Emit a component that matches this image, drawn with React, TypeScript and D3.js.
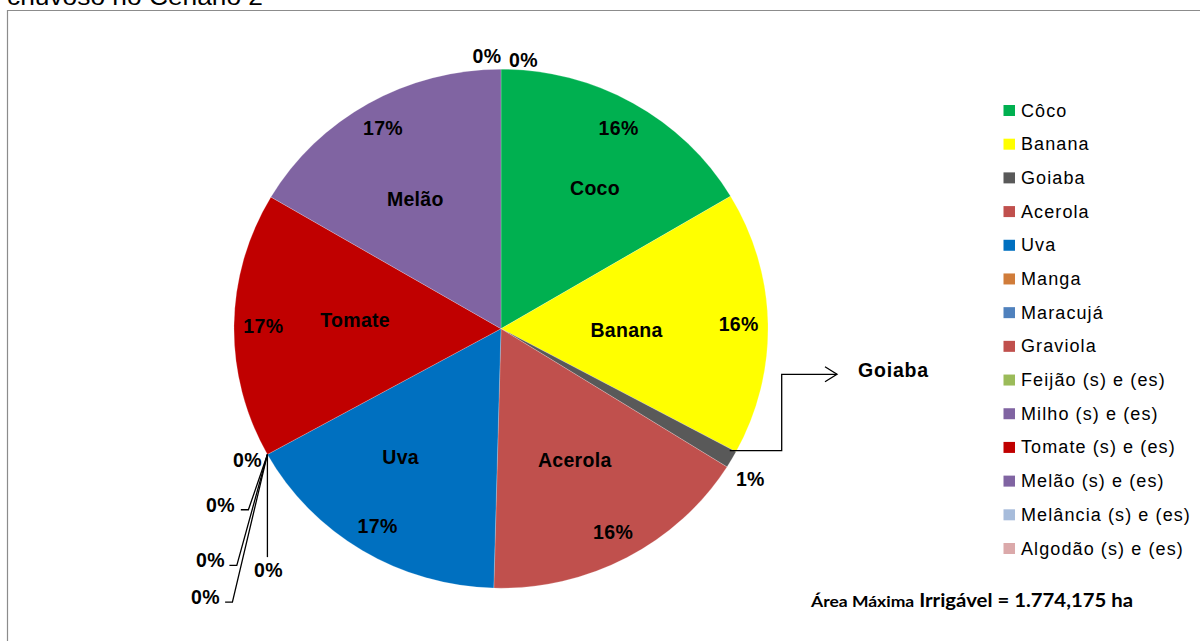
import React from "react";
import * as d3 from "d3";

// ---- data ----
const categories = [
  "Côco", "Banana", "Goiaba", "Acerola", "Uva", "Manga", "Maracujá", "Graviola",
  "Feijão (s) e (es)", "Milho (s) e (es)", "Tomate (s) e (es)", "Melão (s) e (es)",
  "Melância (s) e (es)", "Algodão (s) e (es)",
];
const sliceNames = [
  "Coco", "Banana", "Goiaba", "Acerola", "Uva", "Manga", "Maracujá", "Graviola",
  "Feijão", "Milho", "Tomate", "Melão", "Melância", "Algodão",
];
const values = [16.47, 16.4, 1.07, 16.49, 16.52, 0, 0, 0, 0, 0, 16.52, 16.53, 0, 0];
const colors = [
  "#00B050", "#FFFF00", "#595959", "#C0504D", "#0070C0", "#D07C3A", "#4F81BD", "#C0504D",
  "#9BBB59", "#8064A2", "#C00000", "#8064A2", "#A7BCDB", "#DBA9AA",
];
const titleText = "chuvoso no Cenário 2";
const footA = "Área Máxima";
const footB = " Irrigável = 1.774,175  ha";

// ---- layout ----
const W = 1200, H = 641;
const CX = 501, CY = 328.7, R = 259.5, SX = 1.029;
const PCT_R = 231;
// name label: [radius, angle nudge in degrees]
const nameLayout: Record<string, [number, number]> = {
  Coco: [168, 3.3], Banana: [122, 1.8], Acerola: [150, -0.4],
  Uva: [161, 6], Tomate: [142, 2.7], Melão: [154, -3],
};
// zero-slice labels: offsets from slice outer point, optional leader elbow
const zeroLayout: Record<string, { lx: number; ly: number; leader?: [number, number][] }> = {
  Manga: { lx: -20, ly: 6 },
  Maracujá: { lx: -47, ly: 51, leader: [[-19, 55.3], [-26.6, 55.3]] },
  Graviola: { lx: -57, ly: 106, leader: [[-30.6, 111], [-38, 111]] },
  Feijão: { lx: -62, ly: 143, leader: [[-35, 147.7], [-42.3, 147.7]] },
  Milho: { lx: 1, ly: 116, leader: [[0, 102.7]] },
  Melância: { lx: -14, ly: -13.7 },
  Algodão: { lx: 22.5, ly: -9.7 },
};

const pt = (aDeg: number, r: number): [number, number] => {
  const a = (aDeg * Math.PI) / 180;
  return [CX + r * Math.sin(a) * SX, CY - r * Math.cos(a)];
};

export default function App() {
  const total = d3.sum(values);
  const pie = d3.pie<number>().sort(null).value((d) => d)(values);
  const arc = d3.arc<d3.PieArcDatum<number>>().innerRadius(0).outerRadius(R);
  const fmt = d3.format(".0%");
  const deg = (r: number) => (r * 180) / Math.PI;

  const legendY = d3.scalePoint<string>().domain(categories).range([110.5, 548.5]);

  const labelFont = "'Liberation Sans', Arial, Helvetica, sans-serif";
  const bold = { fontFamily: labelFont, fontWeight: 700, fontSize: 19.5, letterSpacing: 0.3 } as const;

  // Goiaba annotation
  const gi = sliceNames.indexOf("Goiaba");
  const gMid = deg((pie[gi].startAngle + pie[gi].endAngle) / 2);
  const gStart = pt(deg(pie[gi].startAngle) + 0.4, R - 6);
  const gElbowX = 781.7, gTopY = 374.3, gArrowX = 837;
  const gPct = pt(gMid + 1.5, 285);

  return (
    <svg width={W} height={H} style={{ position: "absolute", left: 0, top: 0, background: "#fff" }}>
      <rect x={0} y={0} width={W} height={H} fill="#fff" />
      <text x={7} y={4.5} fontFamily={labelFont} fontSize={24} textLength={256} lengthAdjust="spacingAndGlyphs" fill="#000">
        {titleText}
      </text>
      <path d={`M7.5,${H} V10.5 H${W}`} fill="none" stroke="#8c8c8c" strokeWidth={1.2} />

      <g transform={`translate(${CX},${CY}) scale(${SX},1)`}>
        {pie.map((d, i) =>
          d.value > 0 ? (
            <path key={i} d={arc(d) || ""} fill={colors[i]} stroke="#ffffff" strokeOpacity={0.35} strokeWidth={0.6} />
          ) : null
        )}
      </g>

      {/* percentage and name labels for main slices */}
      {pie.map((d, i) => {
        const name = sliceNames[i];
        if (d.value <= 0 || name === "Goiaba") return null;
        const mid = deg((d.startAngle + d.endAngle) / 2);
        const [px, py] = pt(mid, PCT_R);
        const nl = nameLayout[name];
        const [nx, ny] = pt(mid + nl[1], nl[0]);
        return (
          <g key={i}>
            <text x={px} y={py} textAnchor="middle" dominantBaseline="central" {...bold} fill="#000">
              {fmt(d.value / total)}
            </text>
            <text x={nx} y={ny} textAnchor="middle" dominantBaseline="central" {...bold} fill="#000">
              {name}
            </text>
          </g>
        );
      })}

      {/* zero slices */}
      {pie.map((d, i) => {
        const name = sliceNames[i];
        if (d.value > 0) return null;
        const lay = zeroLayout[name];
        const [ox, oy] = pt(deg(d.startAngle), R);
        const pts: [number, number][] = lay.leader ? [[0, 0], ...lay.leader] : [];
        return (
          <g key={i}>
            {lay.leader && (
              <polyline
                points={pts.map((p) => `${ox + p[0]},${oy + p[1]}`).join(" ")}
                fill="none"
                stroke="#000"
                strokeWidth={1.3}
              />
            )}
            <text x={ox + lay.lx} y={oy + lay.ly} textAnchor="middle" dominantBaseline="central" {...bold} fill="#000">
              {fmt(d.value / total)}
            </text>
          </g>
        );
      })}

      {/* Goiaba */}
      <text x={gPct[0]} y={gPct[1]} textAnchor="middle" dominantBaseline="central" {...bold} fill="#000">
        {fmt(values[gi] / total)}
      </text>
      <polyline
        points={`${gStart[0]},${gStart[1]} ${gElbowX},${gStart[1]} ${gElbowX},${gTopY} ${gArrowX},${gTopY}`}
        fill="none"
        stroke="#000"
        strokeWidth={1.3}
      />
      <polyline
        points={`${gArrowX - 12},${gTopY - 7.5} ${gArrowX},${gTopY} ${gArrowX - 12},${gTopY + 7.5}`}
        fill="none"
        stroke="#000"
        strokeWidth={1.3}
      />
      <text x={858} y={370} dominantBaseline="central" {...bold} letterSpacing={0.8} fill="#000">
        Goiaba
      </text>

      {/* legend */}
      {categories.map((c, i) => {
        const y = legendY(c) as number;
        return (
          <g key={c}>
            <rect x={1003.5} y={y - 5.5} width={11.5} height={11} fill={colors[i]} />
            <text x={1021} y={y} dominantBaseline="central" fontFamily={labelFont} fontSize={18} letterSpacing={1.1} fill="#000">
              {c}
            </text>
          </g>
        );
      })}

      {/* footnote */}
      <text x={811} y={607} fontFamily="Lato, 'Open Sans', sans-serif" fontWeight={700} textLength={322} lengthAdjust="spacingAndGlyphs" fill="#000">
        <tspan fontSize={15.5}>{footA}</tspan>
        <tspan fontSize={18}>{footB}</tspan>
      </text>
    </svg>
  );
}
